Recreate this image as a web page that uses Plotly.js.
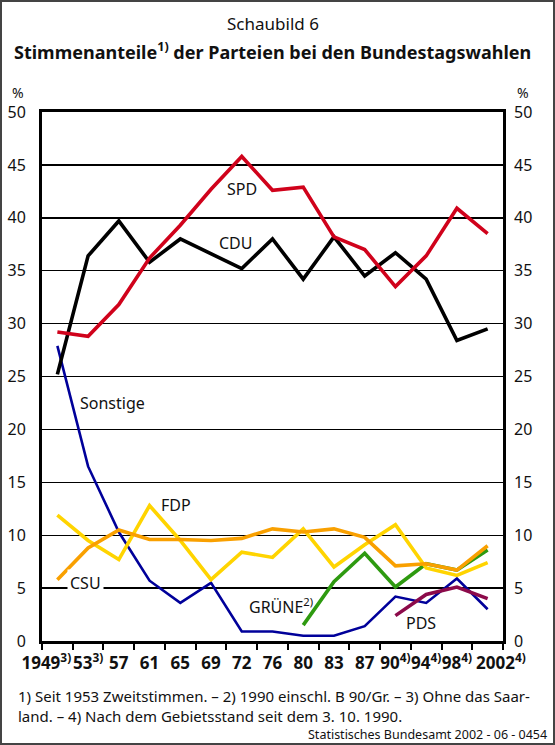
<!DOCTYPE html>
<html>
<head>
<meta charset="utf-8">
<script src="https://cdn.plot.ly/plotly-3.0.1.min.js"></script>
<style>
html,body{margin:0;padding:0;background:#fff;}
#wrap{position:relative;width:555px;height:745px;}
#chart{position:absolute;left:0;top:0;width:555px;height:745px;}
#frame{position:absolute;left:0;top:0;width:555px;height:745px;box-sizing:border-box;border:2px solid #444;pointer-events:none;}
</style>
</head>
<body>
<div id="wrap"><div id="chart"></div><div id="frame"></div></div>
<script>
const years = ["1949","1953","1957","1961","1965","1969","1972","1976","1980","1983","1987","1990","1994","1998","2002"];
const NB = "\u00a0";
const yearLabels = ["1949<sup>3)</sup>"+NB.repeat(5),"53<sup>3)</sup>","57","61","65","69","72","76","80","83","87","90<sup>4)</sup>","94<sup>4)</sup>","98<sup>4)</sup>",NB.repeat(6)+"2002<sup>4)</sup>"];
const spd = [29.2,28.8,31.8,36.2,39.3,42.7,45.8,42.6,42.9,38.2,37.0,33.5,36.4,40.9,38.5];
const cdu = [25.2,36.4,39.7,35.8,38.0,36.6,35.2,38.0,34.2,38.2,34.5,36.7,34.2,28.4,29.5];
const csu = [5.8,8.8,10.5,9.6,9.6,9.5,9.7,10.6,10.3,10.6,9.8,7.1,7.3,6.7,9.0];
const fdp = [11.9,9.5,7.7,12.8,9.5,5.8,8.4,7.9,10.6,7.0,9.1,11.0,6.9,6.2,7.4];
const gruene = [null,null,null,null,null,null,null,null,1.5,5.6,8.3,5.1,7.3,6.7,8.6];
const pds = [null,null,null,null,null,null,null,null,null,null,null,2.4,4.4,5.1,4.0];
const sonstige = [27.9,16.5,10.3,5.7,3.6,5.5,0.9,0.9,0.5,0.5,1.4,4.2,3.6,5.9,3.0];
const yTicks = [0,5,10,15,20,25,30,35,40,45,50];

const FONT = "Noto Sans";
function tr(y, color, width){
  return {type:"scatter", mode:"lines", x:years, y:y, connectgaps:false,
          line:{color:color, width:width}, hoverinfo:"skip", showlegend:false};
}
const data = [
  tr(sonstige, "#00009a", 2.6),
  tr(pds, "#8c0a4a", 3.6),
  tr(gruene, "#2e9a10", 3.6),
  tr(fdp, "#ffd400", 3.6),
  tr(csu, "#f9a000", 3.6),
  tr(cdu, "#000000", 3.6),
  tr(spd, "#d0021b", 3.6),
  {type:"scatter", mode:"lines", x:[], y:[], yaxis:"y2", showlegend:false, hoverinfo:"skip"}
];

function lab(text, x, y, extra){
  return Object.assign({text:text, x:x, y:y, xref:"x", yref:"y", showarrow:false,
    font:{family:FONT, size:16, color:"#111"}, xanchor:"center", yanchor:"middle"}, extra||{});
}
function pap(text, x, y, size, xanchor, extra){
  return Object.assign({text:text, x:x, y:y, xref:"paper", yref:"paper", showarrow:false,
    font:{family:FONT, size:size, color:"#111"}, xanchor:xanchor, yanchor:"middle"}, extra||{});
}

const layout = {
  width:555, height:745,
  margin:{l:42, r:52, t:112, b:104, pad:0},
  paper_bgcolor:"#fff", plot_bgcolor:"#fff",
  font:{family:FONT, color:"#111"},
  showlegend:false,
  xaxis:{type:"category", categoryorder:"array", categoryarray:years,
    tickvals:years, ticktext:yearLabels, range:[-0.5,14.5],
    tickson:"boundaries", ticks:"outside", ticklen:6, tickwidth:2, tickcolor:"#000",
    showgrid:false, zeroline:false, showline:true, mirror:true, linewidth:3, linecolor:"#000",
    tickfont:{family:FONT, size:17, weight:"bold", color:"#111"}, tickangle:0, ticklabelstandoff:5},
  yaxis:{range:[0,50], tickvals:yTicks, ticks:"", showgrid:true, gridcolor:"#000", gridwidth:1.4,
    zeroline:false, showline:true, mirror:true, linewidth:3, linecolor:"#000",
    tickfont:{family:FONT, size:16, color:"#111"}, ticklabelstandoff:10},
  yaxis2:{overlaying:"y", side:"right", range:[0,50], tickvals:yTicks, ticks:"", showgrid:false,
    zeroline:false, showline:false, tickfont:{family:FONT, size:16, color:"#111"}, ticklabelstandoff:10},
  annotations:[
    pap("Schaubild 6", 0.501, 1.168, 17, "center"),
    pap("<b>Stimmenanteile<sup>1)</sup> der Parteien bei den Bundestagswahlen</b>", 0.5, 1.115, 18, "center"),
    pap("%", -0.052, 1.037, 14, "center"),
    pap("%", 1.043, 1.037, 14, "center"),
    pap("1) Seit 1953 Zweitstimmen. – 2) 1990 einschl. B 90/Gr. – 3) Ohne das Saar-", -0.0564, -0.104, 15, "left"),
    pap("land. – 4) Nach dem Gebietsstand seit dem 3. 10. 1990.", -0.0564, -0.142, 15, "left"),
    pap("Statistisches Bundesamt 2002 - 06 - 0454", 1.100, -0.177, 12.5, "right"),
    lab("SPD", 6.0, 42.7),
    lab("CDU", 5.82, 37.6),
    lab("Sonstige", 1.8, 22.5),
    lab("FDP", 3.86, 12.87),
    lab("CSU", 0.93, 5.46, {bgcolor:"#fff", borderpad:2}),
    lab("GRÜNE<sup>2)</sup>", 7.27, 3.3),
    lab("PDS", 11.83, 1.73)
  ]
};
Plotly.newPlot("chart", data, layout, {staticPlot:true, displayModeBar:false});
</script>
</body>
</html>
